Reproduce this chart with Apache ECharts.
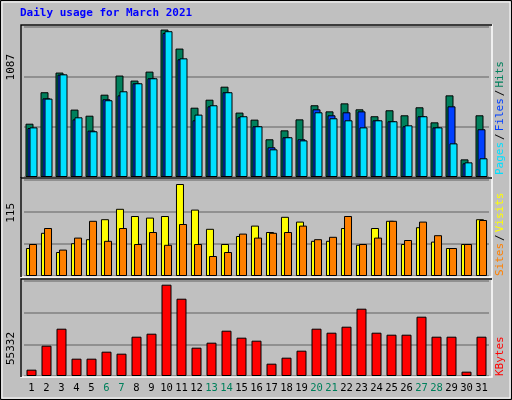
<!DOCTYPE html>
<html>
<head>
<meta charset="utf-8">
<script src="https://cdn.jsdelivr.net/npm/echarts@6/dist/echarts.min.js"></script>
<style>html,body{margin:0;padding:0;background:#c0c0c0}#chart{width:512px;height:400px}</style>
</head>
<body>
<div id="chart"></div>
<script>
// day labels
var days = [];
for (var d = 1; d <= 31; d++) days.push(String(d));
var weekends = ['6', '7', '13', '14', '20', '21', '27', '28'];

// Hits / Files / Pages
var hits = [393, 625, 770, 497, 452, 607, 748, 711, 777, 1087, 947, 511, 570, 666, 475, 423, 278, 344, 425, 529, 484, 543, 499, 448, 492, 455, 514, 403, 602, 130, 455];
var files = [361, 580, 755, 425, 342, 573, 602, 691, 728, 1062, 868, 418, 521, 625, 440, 374, 219, 293, 278, 499, 455, 477, 484, 418, 411, 374, 448, 366, 521, 101, 352];
var pages = [366, 578, 757, 440, 337, 566, 632, 691, 728, 1075, 875, 460, 529, 625, 448, 374, 204, 293, 270, 477, 433, 418, 366, 418, 411, 381, 448, 366, 248, 108, 138];

// Visits / Sites
var visits = [35, 54, 30, 41, 46, 71, 84, 75, 73, 75, 115, 83, 59, 40, 50, 63, 55, 74, 68, 44, 44, 60, 39, 60, 69, 40, 61, 43, 35, 40, 71];
var sites = [40, 60, 33, 48, 69, 44, 60, 40, 55, 39, 65, 40, 25, 30, 53, 48, 54, 55, 63, 46, 49, 75, 40, 48, 69, 45, 68, 51, 35, 40, 70];

// KBytes
var kbytes = [3836, 18373, 28671, 10499, 10499, 14739, 13527, 23825, 25642, 55332, 46842, 17162, 20190, 27460, 23219, 21402, 7470, 11105, 15345, 28671, 26248, 29882, 40786, 26248, 25036, 25036, 35940, 23825, 23825, 2625, 23825];

var panelMax = [1106, 120, 57574];

var chart = echarts.init(document.getElementById('chart'));
var mono = 'DejaVu Sans Mono';
var grids = [
	{left: 24, width: 465, top: 27, height: 150},
	{left: 24, width: 465, top: 180, height: 96},
	{left: 24, width: 465, top: 281, height: 95}
];

function xAx(i) {
	return {
		type: 'category', gridIndex: i, data: days,
		axisLine: {show: false}, axisTick: {show: false},
		axisLabel: i === 2 ? {
			show: true, interval: 0, margin: 7, fontFamily: mono, fontSize: 10.5,
			color: function(v) { return weekends.indexOf(v) >= 0 ? '#00805c' : '#000'; }
		} : {show: false}
	};
}
function yAx(i) {
	return {
		type: 'value', gridIndex: i, min: 0, max: panelMax[i], interval: panelMax[i] / 3,
		axisLabel: {show: false}, axisLine: {show: false}, axisTick: {show: false},
		splitLine: {lineStyle: {color: '#808080', width: 1.5}}
	};
}
function bar(name, data, i, color, width, gap) {
	var s = {
		name: name, type: 'bar', data: data, xAxisIndex: i, yAxisIndex: i,
		barWidth: width, itemStyle: {color: color, borderColor: '#000', borderWidth: 1},
		animation: false
	};
	if (gap) s.barGap = gap;
	return s;
}

// panel frames
var frames = [];
grids.forEach(function(g) {
	frames.push({type: 'rect', shape: {x: 21, y: g.top - 2, width: 471, height: g.height + 3},
		style: {fill: null, stroke: '#fff', lineWidth: 1.5}, z: 5});
	frames.push({type: 'polyline', shape: {points: [[21, g.top + g.height + 1], [21, g.top - 2], [492, g.top - 2]]},
		style: {fill: null, stroke: '#000', lineWidth: 1.5}, z: 6});
});

chart.setOption({
	backgroundColor: '#c0c0c0',
	animation: false,
	grid: grids,
	xAxis: [xAx(0), xAx(1), xAx(2)],
	yAxis: [yAx(0), yAx(1), yAx(2)],
	series: [
		bar('Hits', hits, 0, '#00805c', 8, '-75%'),
		bar('Files', files, 0, '#0040ff', 8, '-75%'),
		bar('Pages', pages, 0, '#00e0ff', 8, '-75%'),
		bar('Visits', visits, 1, '#ffff00', 8, '-62%'),
		bar('Sites', sites, 1, '#ff8000', 8, '-62%'),
		bar('KBytes', kbytes, 2, '#ff0000', 10)
	],
	graphic: frames.concat([
		{type: 'rect', shape: {x: 0.5, y: 0.5, width: 511, height: 399},
			style: {fill: null, stroke: '#000', lineWidth: 1}, z: 7},
		{type: 'rect', shape: {x: 2, y: 2, width: 508, height: 396},
			style: {fill: null, stroke: '#fff', lineWidth: 1}, z: 7},
		{type: 'text', left: 20, top: 8, style: {text: 'Daily usage for March 2021',
			fill: '#0000ff', font: 'bold 11px ' + mono}},
		{type: 'text', x: 11, y: 54, rotation: Math.PI / 2, style: {text: '1087',
			fill: '#000', font: '11px ' + mono, align: 'right', verticalAlign: 'middle'}},
		{type: 'text', x: 11, y: 203, rotation: Math.PI / 2, style: {text: '115',
			fill: '#000', font: '11px ' + mono, align: 'right', verticalAlign: 'middle'}},
		{type: 'text', x: 11, y: 332, rotation: Math.PI / 2, style: {text: '55332',
			fill: '#000', font: '11px ' + mono, align: 'right', verticalAlign: 'middle'}},
		{type: 'text', x: 500, y: 175, rotation: Math.PI / 2, style: {
			text: '{p|Pages}{s|/}{f|Files}{s|/}{h|Hits}', align: 'left', verticalAlign: 'middle',
			font: '11px ' + mono,
			rich: {p: {fill: '#00e0ff'}, f: {fill: '#0040ff'}, h: {fill: '#00805c'}, s: {fill: '#000', padding: [0, 2]}}}},
		{type: 'text', x: 500, y: 276, rotation: Math.PI / 2, style: {
			text: '{a|Sites}{s|/}{b|Visits}', align: 'left', verticalAlign: 'middle',
			font: '11px ' + mono,
			rich: {a: {fill: '#ff8000'}, b: {fill: '#ffff00'}, s: {fill: '#000', padding: [0, 2]}}}},
		{type: 'text', x: 500, y: 376, rotation: Math.PI / 2, style: {
			text: 'KBytes', align: 'left', verticalAlign: 'middle',
			font: '11px ' + mono, fill: '#ff0000'}}
	])
});
</script>
</body>
</html>
